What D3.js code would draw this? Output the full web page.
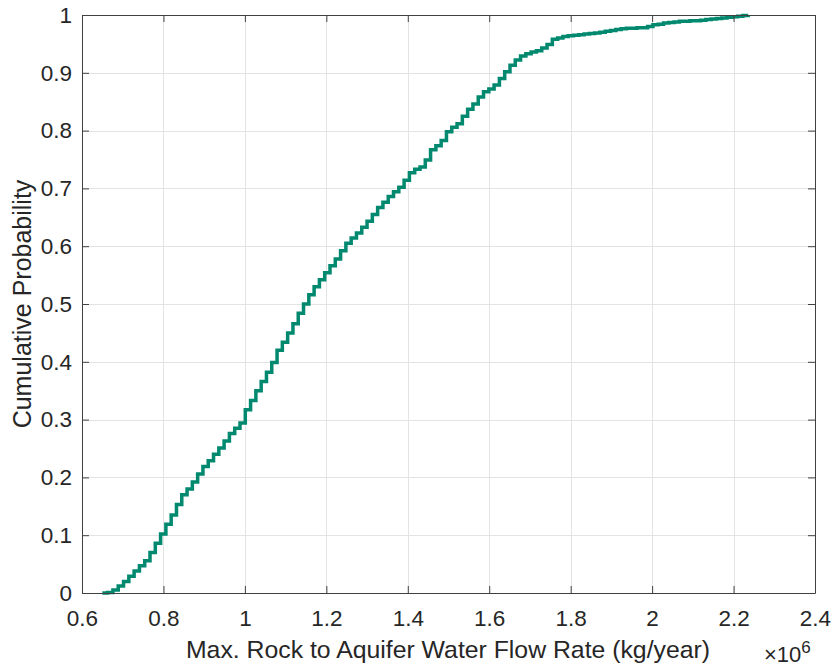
<!DOCTYPE html>
<html>
<head>
<meta charset="utf-8">
<script src="https://cdn.jsdelivr.net/npm/d3@7/dist/d3.min.js"></script>
<style>
  body { margin: 0; background: #fff; }
  text { font-family: "Liberation Sans", Arial, sans-serif; fill: #262626; }
</style>
</head>
<body>
<svg id="graph" width="834" height="669"></svg>
<script>
// flow rate grid (x 10^6 kg/year) and cumulative probability
const flowRate = [
  0.650, 0.663, 0.676, 0.689, 0.702, 0.715, 0.728, 0.741, 0.754, 0.767,
  0.780, 0.793, 0.806, 0.819, 0.832, 0.845, 0.858, 0.871, 0.884, 0.897,
  0.910, 0.923, 0.936, 0.949, 0.962, 0.975, 0.988, 1.001, 1.014, 1.027,
  1.040, 1.053, 1.066, 1.079, 1.092, 1.105, 1.118, 1.131, 1.144, 1.157,
  1.170, 1.183, 1.196, 1.209, 1.222, 1.235, 1.248, 1.261, 1.274, 1.287,
  1.300, 1.313, 1.326, 1.339, 1.352, 1.365, 1.378, 1.391, 1.404, 1.417,
  1.430, 1.443, 1.456, 1.469, 1.482, 1.495, 1.508, 1.521, 1.534, 1.547,
  1.560, 1.573, 1.586, 1.599, 1.612, 1.625, 1.638, 1.651, 1.664, 1.677,
  1.690, 1.703, 1.716, 1.729, 1.742, 1.755, 1.768, 1.781, 1.794, 1.807,
  1.820, 1.833, 1.846, 1.859, 1.872, 1.885, 1.898, 1.911, 1.924, 1.937,
  1.950, 1.963, 1.976, 1.989, 2.002, 2.015, 2.028, 2.041, 2.054, 2.067,
  2.080, 2.093, 2.106, 2.119, 2.132, 2.145, 2.158, 2.171, 2.184, 2.197,
  2.210, 2.223, 2.236
]
const cumProb = [
  0.000, 0.001, 0.005, 0.012, 0.020, 0.029, 0.038, 0.047, 0.056, 0.070,
  0.086, 0.102, 0.119, 0.135, 0.153, 0.170, 0.180, 0.192, 0.206, 0.219,
  0.229, 0.240, 0.251, 0.263, 0.276, 0.285, 0.294, 0.317, 0.333, 0.350,
  0.366, 0.382, 0.399, 0.420, 0.434, 0.450, 0.466, 0.484, 0.500, 0.516,
  0.530, 0.542, 0.554, 0.566, 0.578, 0.592, 0.605, 0.614, 0.623, 0.633,
  0.643, 0.655, 0.667, 0.676, 0.686, 0.694, 0.702, 0.714, 0.727, 0.733,
  0.737, 0.749, 0.767, 0.774, 0.783, 0.798, 0.806, 0.812, 0.825, 0.837,
  0.846, 0.858, 0.867, 0.872, 0.879, 0.890, 0.902, 0.913, 0.922, 0.929,
  0.933, 0.936, 0.938, 0.943, 0.949, 0.958, 0.960, 0.963, 0.964, 0.965,
  0.966, 0.967, 0.968, 0.969, 0.970, 0.972, 0.973, 0.975, 0.976, 0.977,
  0.977, 0.978, 0.978, 0.980, 0.983, 0.984, 0.986, 0.987, 0.988, 0.989,
  0.989, 0.990, 0.990, 0.991, 0.992, 0.993, 0.994, 0.995, 0.996, 0.997,
  0.998, 0.999, 1.000
]

const xTicks = [0.6, 0.8, 1.0, 1.2, 1.4, 1.6, 1.8, 2.0, 2.2, 2.4]
const xTickLabels = ['0.6','0.8','1','1.2','1.4','1.6','1.8','2','2.2','2.4']
const yTicks = [0, 0.1, 0.2, 0.3, 0.4, 0.5, 0.6, 0.7, 0.8, 0.9, 1]
const yTickLabels = ['0','0.1','0.2','0.3','0.4','0.5','0.6','0.7','0.8','0.9','1']

const lineColor = '#00896f'
const axisColor = '#404040'
const gridColor = '#e3e3e3'

var svg = d3.select('#graph'),
    w = +svg.attr('width'),
    h = +svg.attr('height')

const margin = {left: 82, top: 15, right: 19, bottom: 76}
const pw = w - margin.left - margin.right,
      ph = h - margin.top - margin.bottom

const x = d3.scaleLinear().domain([0.6, 2.4]).range([margin.left, margin.left + pw])
const y = d3.scaleLinear().domain([0, 1]).range([margin.top + ph, margin.top])

const data = flowRate.map((v, i) => ({x: v, p: cumProb[i]}))

// grid
const grid = svg.append('g').attr('class', 'grid')
grid.selectAll('.vgrid').data(xTicks.slice(1, -1)).enter().append('line')
    .attr('class', 'vgrid')
    .attr('x1', d => Math.round(x(d)) + 0.5).attr('x2', d => Math.round(x(d)) + 0.5)
    .attr('y1', margin.top).attr('y2', margin.top + ph)
    .attr('stroke', gridColor).attr('stroke-width', 1)
grid.selectAll('.hgrid').data(yTicks.slice(1, -1)).enter().append('line')
    .attr('class', 'hgrid')
    .attr('y1', d => Math.round(y(d)) + 0.5).attr('y2', d => Math.round(y(d)) + 0.5)
    .attr('x1', margin.left).attr('x2', margin.left + pw)
    .attr('stroke', gridColor).attr('stroke-width', 1)

// cdf stairs
const stairs = d3.line()
    .x(d => x(d.x))
    .y(d => y(d.p))
    .curve(d3.curveStepAfter)

svg.append('path')
    .datum(data)
    .attr('d', stairs)
    .attr('fill', 'none')
    .attr('stroke', lineColor)
    .attr('stroke-width', 3.5)
    .attr('stroke-linejoin', 'miter')

// box + inward ticks
const tickLen = 7
const tickFont = 22.5
const xAxisB = d3.axisBottom(x).tickValues(xTicks).tickFormat((d, i) => xTickLabels[i])
    .tickSizeInner(-tickLen).tickSizeOuter(0).tickPadding(17)
const xAxisT = d3.axisTop(x).tickValues(xTicks).tickFormat('')
    .tickSizeInner(-tickLen).tickSizeOuter(0)
const yAxisL = d3.axisLeft(y).tickValues(yTicks).tickFormat((d, i) => yTickLabels[i])
    .tickSizeInner(-tickLen).tickSizeOuter(0).tickPadding(10)
const yAxisR = d3.axisRight(y).tickValues(yTicks).tickFormat('')
    .tickSizeInner(-tickLen).tickSizeOuter(0)

const styleAxis = g => {
    g.select('.domain').attr('stroke', axisColor)
    g.selectAll('.tick line').attr('stroke', axisColor)
    g.selectAll('.tick text').attr('font-size', tickFont)
        .attr('font-family', '"Liberation Sans", Arial, sans-serif').attr('fill', '#262626')
}

svg.append('g').attr('transform', `translate(0,${margin.top + ph})`).call(xAxisB).call(styleAxis)
svg.append('g').attr('transform', `translate(0,${margin.top})`).call(xAxisT).call(styleAxis)
svg.append('g').attr('transform', `translate(${margin.left},0)`).call(yAxisL).call(styleAxis)
svg.append('g').attr('transform', `translate(${margin.left + pw},0)`).call(yAxisR).call(styleAxis)

// labels
svg.append('text')
    .attr('x', 448)
    .attr('y', 658)
    .attr('text-anchor', 'middle')
    .attr('font-size', 24.8)
    .text('Max. Rock to Aquifer Water Flow Rate (kg/year)')

svg.append('text')
    .attr('transform', `translate(31,${margin.top + ph / 2}) rotate(-90)`)
    .attr('text-anchor', 'middle')
    .attr('font-size', 25)
    .text('Cumulative Probability')

const expo = svg.append('text')
    .attr('x', 764)
    .attr('y', 662)
    .attr('font-size', 22)
expo.append('tspan').text('\u00d710')
expo.append('tspan').attr('dy', -9).attr('font-size', 17).text('6')
</script>
</body>
</html>
